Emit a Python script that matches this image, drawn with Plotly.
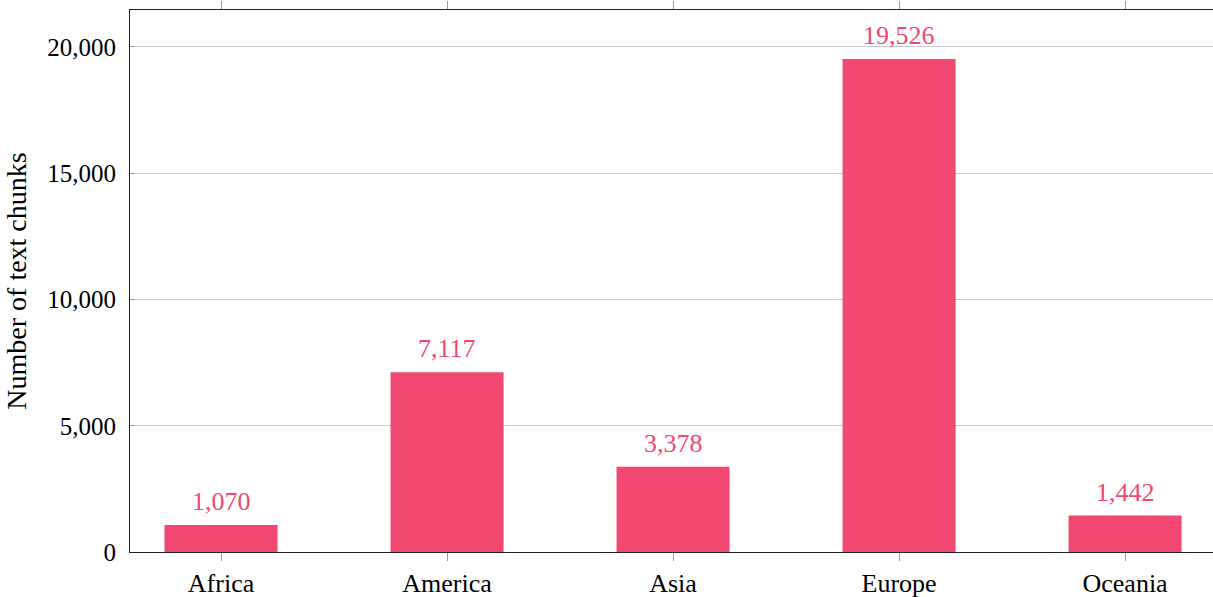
import plotly.graph_objects as go

regions = ["Africa", "America", "Asia", "Europe", "Oceania"]
chunks = [1070, 7117, 3378, 19526, 1442]
labels = [f"{v:,}" for v in chunks]

pink = "rgb(240,72,112)"
font = "Liberation Serif"

fig = go.Figure(go.Bar(x=regions, y=chunks, marker_color=pink, width=0.5,
                       marker_line_width=0))

for r, v, t in zip(regions, chunks, labels):
    fig.add_annotation(x=r, y=v, text=t, showarrow=False, yanchor="bottom",
                       yshift=7, font=dict(color=pink, size=26, family=font))

fig.update_layout(
    width=1213, height=597,
    margin=dict(l=130, r=0, t=10, b=45),
    plot_bgcolor="white", paper_bgcolor="white",
    font=dict(family=font, size=25, color="black"),
    showlegend=False,
    xaxis=dict(range=[-0.4027, 4.389], showline=True, linecolor="#222",
               linewidth=1.2, mirror="ticks", ticks="outside", ticklen=8,
               tickcolor="#999", showgrid=False, ticklabelstandoff=0,
               automargin=False, tickfont=dict(size=26)),
    yaxis=dict(range=[0, 21465], showline=True, linecolor="#222", linewidth=1.2,
               ticks="inside", ticklen=5, tickcolor="#999", tickformat=",",
               tickvals=[0, 5000, 10000, 15000, 20000], gridcolor="#c8c8c8",
               zeroline=False, ticklabelstandoff=8, automargin=False,
               title=dict(text="Number of text chunks", standoff=12,
                          font=dict(size=28))),
)

# the page body has a default margin; drop it so the figure fills the window
fig.write_html("out.html", config={"displayModeBar": False},
               post_script="document.body.style.margin='0';")
